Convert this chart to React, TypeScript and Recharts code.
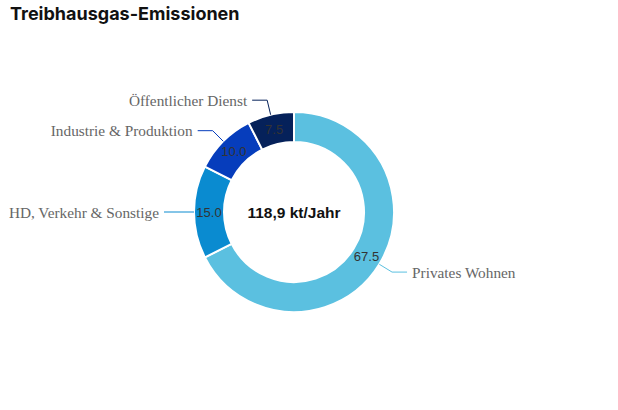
import React from 'react';
import { PieChart, Pie, Cell } from 'recharts';

const categories = ['Privates Wohnen', 'HD, Verkehr & Sonstige', 'Industrie & Produktion', 'Öffentlicher Dienst'];
const shares = [67.5, 15.0, 10.0, 7.5];
const colors = ['#5bc0e0', '#0a8bd0', '#063dbc', '#05215a'];
const totalLabel = '118,9 kt/Jahr';
const title = 'Treibhausgas-Emissionen';

const data = categories.map((name, i) => ({ name, value: shares[i] }));
const RAD = Math.PI / 180;

function renderLabel(props: any) {
  const { cx, cy, midAngle, innerRadius, outerRadius, name, value, index } = props;
  const cos = Math.cos(-midAngle * RAD);
  const sin = Math.sin(-midAngle * RAD);
  const midR = (innerRadius + outerRadius) / 2;
  const vx = cx + midR * cos;
  const vy = cy + midR * sin;
  const x1 = cx + outerRadius * cos;
  const y1 = cy + outerRadius * sin;
  const x2 = cx + (outerRadius + 15) * cos;
  const y2 = cy + (outerRadius + 15) * sin;
  const right = cos >= 0;
  const x3 = x2 + (right ? 15 : -15);
  const tx = x3 + (right ? 5 : -5);
  return (
    <g>
      <polyline points={`${x1},${y1} ${x2},${y2} ${x3},${y2}`} fill="none" stroke={colors[index]} strokeWidth={1} />
      <text x={tx} y={y2} textAnchor={right ? 'start' : 'end'} dominantBaseline="central"
        fontFamily="'Liberation Serif', 'Times New Roman', serif" fontSize={15.3} fill="#666">{name}</text>
      <text x={vx} y={vy} textAnchor="middle" dominantBaseline="central"
        fontFamily="'Liberation Sans', Arial, sans-serif" fontSize={13} fill="#333">{Number(value).toFixed(1)}</text>
      {index === 0 && (
        <text x={cx} y={cy} textAnchor="middle" dominantBaseline="central"
          fontFamily="'Liberation Sans', Arial, sans-serif" fontSize={15.5} fontWeight={700} fill="#111">{totalLabel}</text>
      )}
    </g>
  );
}

export default function App() {
  return (
    <div style={{ position: 'fixed', left: 0, top: 0, width: 618, height: 410, background: '#fff' }}>
      <div style={{ position: 'absolute', left: 10, top: 3, fontFamily: 'Inter, sans-serif', fontWeight: 700, fontSize: 18, color: '#111' }}>
        {title}
      </div>
      <PieChart width={618} height={410} margin={{ top: 0, right: 0, bottom: 0, left: 0 }}
        style={{ position: 'absolute', left: 0, top: 0 }}>
        <Pie data={data} dataKey="value" nameKey="name" cx={294} cy={212} innerRadius={70} outerRadius={100}
          startAngle={90} endAngle={-270} stroke="#fff" strokeWidth={2} label={renderLabel} labelLine={false}
          isAnimationActive={false}>
          {data.map((d, i) => <Cell key={d.name} fill={colors[i]} />)}
        </Pie>
      </PieChart>
    </div>
  );
}
